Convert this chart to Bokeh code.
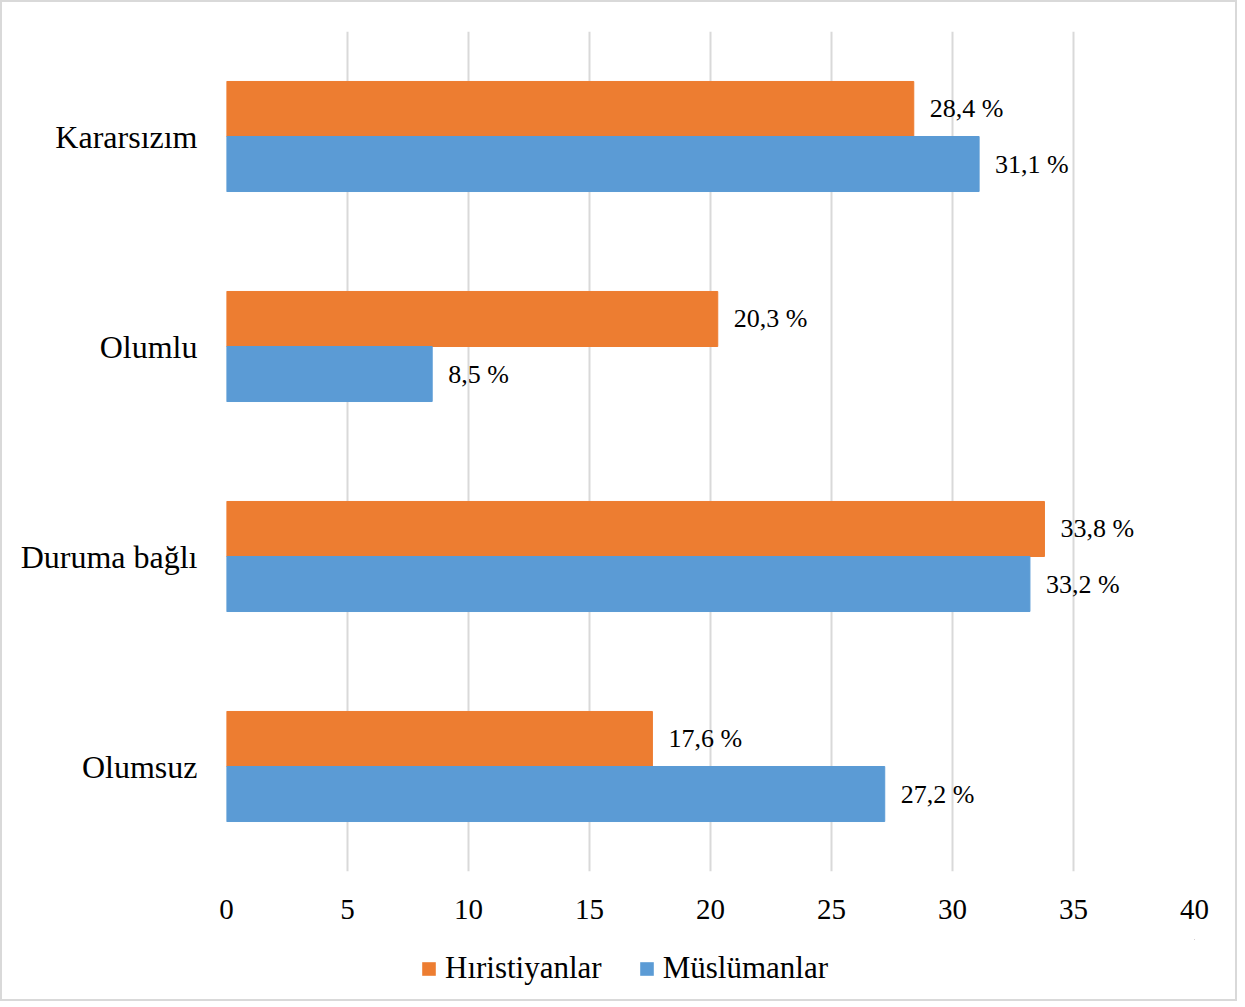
from bokeh.plotting import figure
from bokeh.layouts import column
from bokeh.models import ColumnDataSource, FactorRange, Range1d, FixedTicker, Legend, LegendItem
from bokeh.transform import dodge
from bokeh.core.properties import value
from bokeh.embed import file_html
from bokeh.resources import INLINE

categories = ["Kararsızım", "Olumlu", "Duruma bağlı", "Olumsuz"]
hiristiyanlar = [28.4, 20.3, 33.8, 17.6]
muslumanlar = [31.1, 8.5, 33.2, 27.2]
series_names = ["Hıristiyanlar", "Müslümanlar"]
x_ticks = [0, 5, 10, 15, 20, 25, 30, 35, 40]

def fmt(v):
    return f"{v:.1f}".replace(".", ",") + " %"

src = ColumnDataSource(dict(
    cat=categories,
    h=hiristiyanlar,
    m=muslumanlar,
    h_lbl=[fmt(v) for v in hiristiyanlar],
    m_lbl=[fmt(v) for v in muslumanlar],
))

FONT = "Liberation Serif"
ORANGE = "#ED7D31"
BLUE = "#5B9BD5"
W = 1233

p = figure(width=W, height=937,
           y_range=FactorRange(*reversed(categories), range_padding=0),
           x_range=Range1d(0, 40),
           output_backend="svg", toolbar_location=None,
           min_border_left=224, min_border_right=W - 224 - 968,
           min_border_top=29, min_border_bottom=68)
p.outline_line_color = None
p.background_fill_color = "white"
p.border_fill_color = "white"

bh = 0.262
r_h = p.hbar(y=dodge("cat", bh / 2, range=p.y_range), right="h", left=0, height=bh,
             source=src, fill_color=ORANGE, line_color=ORANGE)
r_m = p.hbar(y=dodge("cat", -bh / 2, range=p.y_range), right="m", left=0, height=bh,
             source=src, fill_color=BLUE, line_color=BLUE)

p.text(x="h", y=dodge("cat", bh / 2, range=p.y_range), text="h_lbl", source=src,
       x_offset=16, text_baseline="middle", text_align="left",
       text_font=value(FONT), text_font_size="26px", text_color="#000000")
p.text(x="m", y=dodge("cat", -bh / 2, range=p.y_range), text="m_lbl", source=src,
       x_offset=16, text_baseline="middle", text_align="left",
       text_font=value(FONT), text_font_size="26px", text_color="#000000")

p.xaxis.ticker = FixedTicker(ticks=x_ticks)
p.xaxis.axis_line_color = None
p.xaxis.major_tick_line_color = None
p.xaxis.minor_tick_line_color = None
p.xaxis.major_label_text_font = FONT
p.xaxis.major_label_text_font_size = "29px"
p.xaxis.major_label_text_color = "#000000"
p.xaxis.major_label_standoff = 22

p.yaxis.axis_line_color = None
p.yaxis.major_tick_line_color = None
p.yaxis.minor_tick_line_color = None
p.yaxis.major_label_text_font = FONT
p.yaxis.major_label_text_font_size = "32px"
p.yaxis.major_label_text_color = "#000000"
p.yaxis.major_label_standoff = 23

p.xgrid.grid_line_color = "#d9d9d9"
p.xgrid.grid_line_width = 2
p.ygrid.grid_line_color = None

# legend strip (its swatch renderers use the same data, kept outside the visible range)
lf = figure(width=W, height=60, x_range=Range1d(-200, -199), y_range=Range1d(-200, -199),
            output_backend="svg", toolbar_location=None,
            x_axis_location=None, y_axis_location=None,
            min_border=0)
lf.outline_line_color = None
lf.grid.grid_line_color = None
lf.border_fill_color = "white"
lg_h = lf.hbar(y="h", right="h", left=0, height=1, source=src,
               fill_color=ORANGE, line_color=None)
lg_m = lf.hbar(y="m", right="m", left=0, height=1, source=src,
               fill_color=BLUE, line_color=None)

legend = Legend(items=[LegendItem(label=series_names[0], renderers=[lg_h]),
                       LegendItem(label=series_names[1], renderers=[lg_m])],
                orientation="horizontal", location=(194, 13),
                label_text_font=FONT, label_text_font_size="31px",
                label_text_color="#000000",
                glyph_width=17, glyph_height=17, label_standoff=8, spacing=36,
                border_line_color=None, background_fill_alpha=0,
                padding=0, margin=0)
lf.add_layout(legend, "center")

layout = column(p, lf, spacing=0,
                styles={"border": "2px solid #d9d9d9", "background-color": "white"})

open("out.html", "w").write(file_html(layout, INLINE))
